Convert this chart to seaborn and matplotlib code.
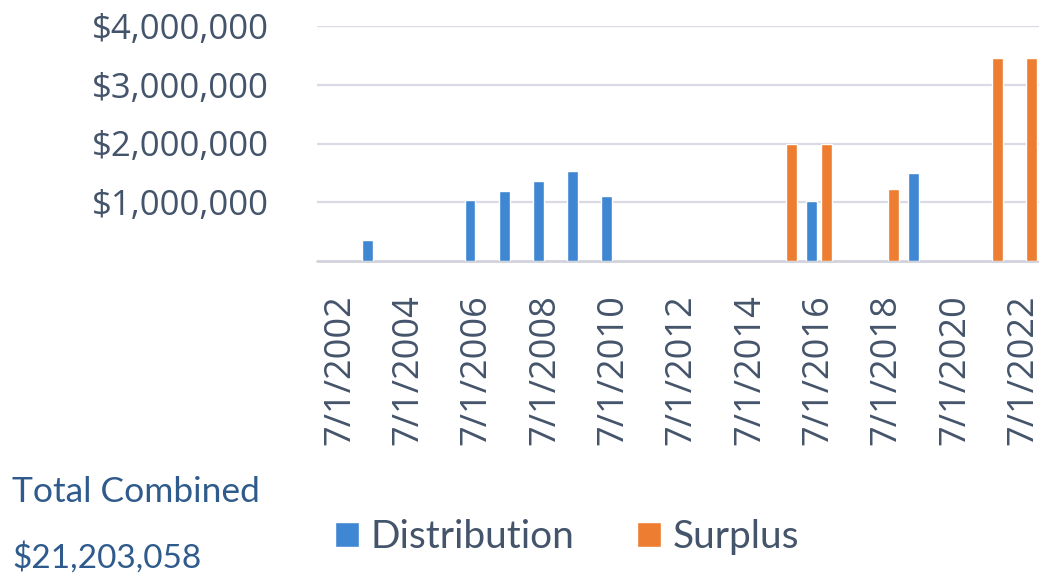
import numpy as np
import pandas as pd
import matplotlib
matplotlib.use('Agg')
import matplotlib.pyplot as plt
import seaborn as sns
from matplotlib.ticker import FuncFormatter

# Fechas como año fraccional
dist_years = [2003.3, 2006.3, 2007.3, 2008.3, 2009.3, 2010.3, 2016.3, 2019.3]
dist_values = [350000, 1030000, 1200000, 1370000, 1540000, 1110000, 1020000, 1490000]
surplus_years = [2015.72, 2016.73, 2018.71, 2021.75, 2022.74]
surplus_values = [2000000, 2000000, 1220000, 3460000, 3460000]

tick_years = [2002, 2004, 2006, 2008, 2010, 2012, 2014, 2016, 2018, 2020, 2022]
tick_labels = [f'7/1/{y}' for y in tick_years]
y_ticks = [1000000, 2000000, 3000000, 4000000]
series_names = ['Distribution', 'Surplus']
total_label = 'Total Combined'
total_value = '$21,203,058'

df = pd.DataFrame({
    'fecha': dist_years + surplus_years,
    'monto': dist_values + surplus_values,
    'tipo': [series_names[0]] * len(dist_years) + [series_names[1]] * len(surplus_years),
})

sns.set_style('white')
plt.rcParams['font.family'] = ['Lato', 'DejaVu Sans']

text_col = '#44546a'
W, H = 1039, 581
fig = plt.figure(figsize=(W / 100, H / 100), dpi=100)
fig.patch.set_facecolor('white')
ax = fig.add_axes([317 / W, (H - 261) / H, (W - 317) / W, (261 - 26) / H])

# ancho de barra en años / separación mínima (seaborn native_scale)
min_gap = np.min(np.diff(np.unique(df['fecha'])))
bar_w = 0.32 / min_gap

sns.barplot(data=df, x='fecha', y='monto', hue='tipo', hue_order=series_names,
            native_scale=True, dodge=False, width=bar_w, saturation=1,
            palette={'Distribution': '#3f87d3', 'Surplus': '#ed7d31'},
            errorbar=None, ax=ax)

ax.set_xlim(2001.82, 2001.82 + (W - 317) / 34.15)
ax.set_ylim(0, 4000000)
ax.set_xticks([y + 0.5 for y in tick_years])
ax.set_xticklabels(tick_labels, rotation=90)
ax.set_yticks(y_ticks)
ax.yaxis.set_major_formatter(FuncFormatter(lambda v, p: f'${v:,.0f}'))
ax.tick_params(axis='x', length=0, pad=24, labelsize=26, labelcolor=text_col)
ax.tick_params(axis='y', length=0, pad=35, labelsize=25, labelcolor=text_col)
for lab in ax.get_xticklabels() + ax.get_yticklabels():
    lab.set_fontfamily(['Open Sans', 'DejaVu Sans'])
ax.set_xlabel('')
ax.set_ylabel('')
ax.yaxis.grid(True, color='#dadae4', lw=1.6)
ax.set_axisbelow(True)
ax.axhline(0, color='#d2d2da', lw=2, clip_on=False, zorder=0.5)
for s in ax.spines.values():
    s.set_visible(False)

leg = ax.get_legend()
handles = leg.legend_handles
labels = [t.get_text() for t in leg.get_texts()]
leg.remove()
fig.legend(handles, labels, loc='center left', bbox_to_anchor=(335 / W, 0.0757),
           ncol=2, frameon=False, borderpad=0, borderaxespad=0,
           handlelength=0.62, handleheight=0.62, handletextpad=0.3,
           columnspacing=1.6, fontsize=28, labelcolor=text_col)

fig.text(12 / W, 0.154, total_label, fontsize=25.5, color='#2f5b8c', va='center')
fig.text(12 / W, 0.041, total_value, fontsize=24, color='#2f5b8c', va='center')

fig.savefig('out.png', dpi=100)
